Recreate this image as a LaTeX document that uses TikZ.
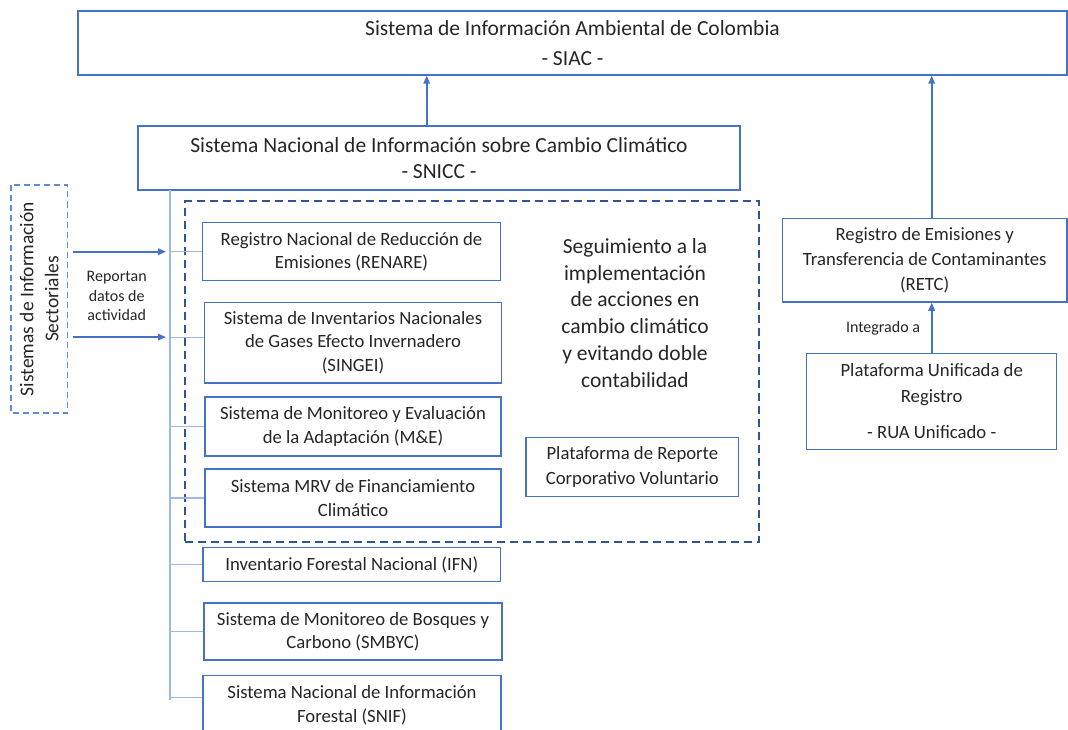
\documentclass[tikz,border=0pt]{standalone}
\usepackage{fontspec}
\setmainfont{Carlito}
\usetikzlibrary{arrows.meta,calc}
\definecolor{boxblue}{RGB}{68,114,196}
\definecolor{treeblue}{RGB}{160,185,228}
\definecolor{dashblue}{RGB}{47,85,151}
\definecolor{sideblue}{RGB}{95,140,212}
\definecolor{txt}{RGB}{38,38,38}
\begin{document}
\begin{tikzpicture}[x=1pt,y=-1pt,
  box/.style={draw=boxblue, line width=1.4pt, fill=white, inner sep=0pt, align=center, text=txt,
              font=\fontsize{18.7}{23.3}\selectfont},
  bigbox/.style={box, font=\fontsize{21.5}{26.5}\selectfont},
  sidebox/.style={draw=sideblue, line width=1.3pt, dash pattern=on 6pt off 4pt, inner sep=0pt,
              align=center, text=txt, font=\fontsize{19.5}{25}\selectfont},
  groupbox/.style={draw=dashblue, line width=2pt, dash pattern=on 8pt off 5pt, inner sep=0pt},
  arr/.style={draw=boxblue, line width=1.6pt, -{Triangle[length=8pt,width=6.5pt]}},
  tree/.style={draw=treeblue, line width=1.2pt},
  lbl/.style={text=txt, align=center, inner sep=0pt}]
\useasboundingbox (0,0) rectangle (1068,730);
\fill[white] (0,0) rectangle (1068,730);

% top boxes
\node[bigbox, minimum width=989, minimum height=64] (siac) at (572.5,43)
  {Sistema de Información Ambiental de Colombia\\[3pt]- SIAC -};
\node[bigbox, minimum width=602, minimum height=64] (snicc) at (439,158)
  {Sistema Nacional de Información sobre Cambio Climático\\- SNICC -};

% group dashed box
\node[groupbox, minimum width=574, minimum height=340.5] (grp) at (472,371.75) {};

% left side box
\node[sidebox, rotate=90, minimum width=228, minimum height=56.5] (sis) at (39.25,299)
  {Sistemas de Información\\Sectoriales};

% inner boxes
\node[box, minimum width=298, minimum height=58] (renare) at (351.5,251.7)
  {Registro Nacional de Reducción de\\Emisiones (RENARE)};
\node[box, minimum width=297, minimum height=80.7] (singei) at (353,342.6)
  {Sistema de Inventarios Nacionales\\de Gases Efecto Invernadero\\(SINGEI)};
\node[box, minimum width=296, minimum height=59] (me) at (353,426.5)
  {Sistema de Monitoreo y Evaluación\\de la Adaptación (M\&E)};
\node[box, minimum width=296, minimum height=58] (mrv) at (353,498)
  {Sistema MRV de Financiamiento\\Climático};
\node[box, minimum width=297.7, minimum height=34] (ifn) at (351.8,564.7)
  {Inventario Forestal Nacional (IFN)};
\node[box, minimum width=298, minimum height=57] (smbyc) at (353,631.5)
  {Sistema de Monitoreo de Bosques y\\Carbono (SMBYC)};
\node[box, minimum width=298, minimum height=59.3] (snif) at (352,705.3)
  {Sistema Nacional de Información\\Forestal (SNIF)};

\node[lbl, font=\fontsize{21.5}{26.8}\selectfont] (seg) at (635,313)
  {Seguimiento a la\\implementación\\de acciones en\\cambio climático\\y evitando doble\\contabilidad};
\node[box, minimum width=212.7, minimum height=59.4, font=\fontsize{18.7}{25}\selectfont] (prcv) at (632.3,467)
  {Plataforma de Reporte\\Corporativo Voluntario};

% right side
\node[box, minimum width=284.7, minimum height=83.7, font=\fontsize{18.7}{25.3}\selectfont] (retc) at (924.7,260.2)
  {Registro de Emisiones y\\Transferencia de Contaminantes\\(RETC)};
\node[box, minimum width=250, minimum height=96, font=\fontsize{18.7}{26}\selectfont] (pur) at (931.7,401.3)
  {Plataforma Unificada de\\Registro\\[10pt]- RUA Unificado -};

% labels
\node[lbl, font=\fontsize{16}{19.5}\selectfont] (rep) at (116.7,296) {Reportan\\datos de\\actividad};
\node[lbl, font=\fontsize{16}{19.5}\selectfont] (intg) at (883,328) {Integrado a};

% tree
\coordinate (trtop) at (170,190);
\coordinate (trbot) at (170,700);
\draw[tree] (trtop) -- (trbot);
\draw[tree] (renare.west -| trtop) -- (renare.west);
\draw[tree] ($(singei.west -| trtop)+(0,-5.5)$) -- ($(singei.west)+(0,-5.5)$);
\draw[tree] (me.west -| trtop) -- (me.west);
\draw[tree] (mrv.west -| trtop) -- (mrv.west);
\draw[tree] (ifn.west -| trtop) -- (ifn.west);
\draw[tree] (smbyc.west -| trtop) -- (smbyc.west);
\draw[tree] ($(snif.west -| trtop)+(0,-8)$) -- ($(snif.west)+(0,-8)$);

% arrows from side box
\coordinate (s1) at ($(sis.south |- renare.west)+(5,0)$);
\coordinate (s2) at ($(sis.south |- singei.west)+(5,-5.5)$);
\draw[arr] (s1) -- ($(s1 -| trtop)+(-4,0)$);
\draw[arr] (s2) -- ($(s2 -| trtop)+(-4,0)$);

% vertical arrows
\coordinate (a1) at ($(snicc.north)+(-12.3,0)$);
\draw[arr] (a1) -- (a1 |- siac.south);
\coordinate (a2) at ($(retc.north)+(7,0)$);
\draw[arr] (a2) -- (a2 |- siac.south);
\draw[arr] (pur.north) -- (pur.north |- retc.south);
\end{tikzpicture}
\end{document}
